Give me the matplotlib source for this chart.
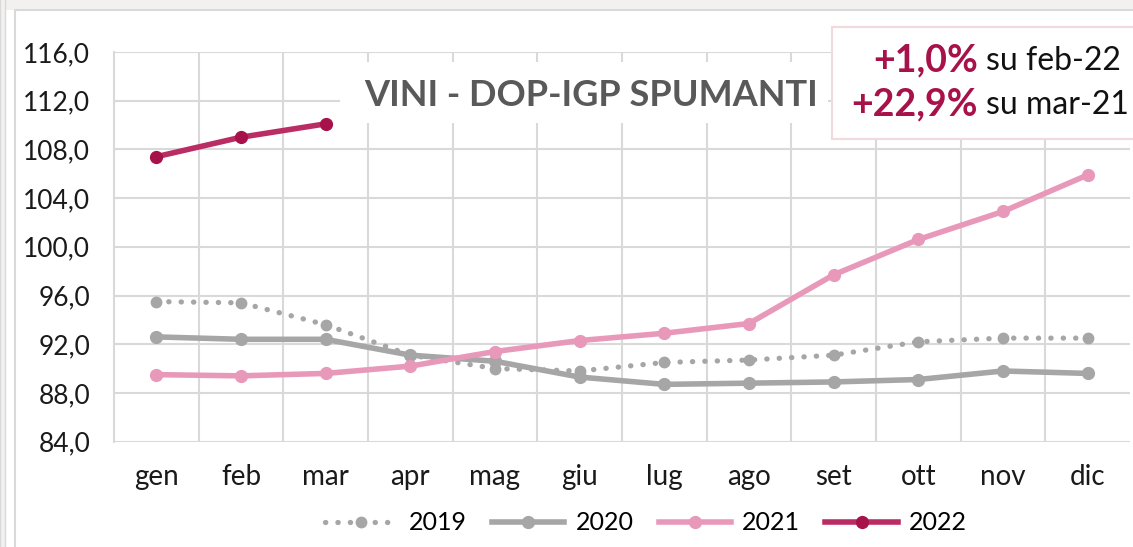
import matplotlib
matplotlib.use("Agg")
import matplotlib.pyplot as plt
from matplotlib.patches import Rectangle
from matplotlib.lines import Line2D

plt.rcParams['font.family'] = ['Lato', 'DejaVu Sans']

months = ["gen", "feb", "mar", "apr", "mag", "giu", "lug", "ago", "set", "ott", "nov", "dic"]
v2019 = [95.5, 95.4, 93.6, 91.1, 90.0, 89.8, 90.5, 90.7, 91.1, 92.2, 92.5, 92.5]
v2020 = [92.6, 92.4, 92.4, 91.1, 90.6, 89.3, 88.7, 88.8, 88.9, 89.1, 89.8, 89.6]
v2021 = [89.5, 89.4, 89.6, 90.2, 91.4, 92.3, 92.9, 93.7, 97.7, 100.6, 102.9, 105.9]
v2022 = [107.4, 109.0, 110.1]
yticks = [84, 88, 92, 96, 100, 104, 108, 112, 116]
title = "VINI - DOP-IGP SPUMANTI"

W, H = 1133, 547
fig = plt.figure(figsize=(W / 100, H / 100), dpi=100)
fig.patch.set_facecolor("white")

# outer frame
fig.patches.append(Rectangle((0, 1 - 10 / H), 1, 10 / H, transform=fig.transFigure,
                             facecolor="#F3F0F0", edgecolor="none", zorder=-3))
fig.patches.append(Rectangle((15 / W, -0.05), 1.2, 1 - 10 / H + 0.05, transform=fig.transFigure,
                             facecolor="white", edgecolor="#D9D9D9", lw=1.5, zorder=-2))
fig.patches.append(Rectangle((0, -0.05), 5 / W, 1.2, transform=fig.transFigure,
                             facecolor="#F3F0F0", edgecolor="#D9D9D9", lw=1, zorder=-2))

ax = fig.add_axes([114 / W, 1 - 441.6 / H, (1130 - 114) / W, (441.6 - 52) / H])
ax.set_facecolor("none")
x = list(range(len(months)))

ax.set_xlim(-0.5, 11.5)
ax.set_ylim(84, 116)
ax.set_yticks(yticks)
ax.set_yticklabels([f"{v:.1f}".replace(".", ",") for v in yticks], fontsize=19, color="#1a1a1a")
ax.set_xticks(x)
ax.set_xticklabels(months, fontsize=20, color="#1a1a1a")
ax.set_xticks([i + 0.5 for i in x[:-1]], minor=True)
ax.tick_params(axis="both", length=0, which="both")
ax.tick_params(axis="y", pad=17)
ax.tick_params(axis="x", pad=16)
ax.grid(True, axis="y", which="major", color="#D9D9D9", lw=1.5)
ax.grid(True, axis="x", which="minor", color="#D9D9D9", lw=1.5)
ax.grid(False, axis="x", which="major")
for s in ["top", "right", "bottom"]:
    ax.spines[s].set_visible(False)
ax.spines["left"].set_color("#D9D9D9")
ax.spines["left"].set_linewidth(1.5)

gray = "#A6A6A6"
pink = "#E899BA"
crim_line = "#BA2D64"
crim_mark = "#A8124A"
lw = 4.0

ax.plot(x, v2019, color=gray, lw=3.8, linestyle=(0, (0.05, 2.3)), dash_capstyle="round",
        marker="o", ms=7.5, zorder=3)
ax.plot(x, v2020, color=gray, lw=lw, marker="o", ms=8.5, zorder=3, solid_capstyle="round")
ax.plot(x, v2021, color=pink, lw=lw, marker="o", ms=8.5, zorder=4, solid_capstyle="round")
ax.plot(x[:len(v2022)], v2022, color=crim_line, lw=lw, marker="o", ms=8.5,
        mfc=crim_mark, mec=crim_mark, zorder=5, solid_capstyle="round")

# title box
fig.patches.append(Rectangle((340 / W, 1 - 123 / H), (828 - 340) / W, (123 - 62) / H,
                             transform=fig.transFigure, facecolor="white", edgecolor="none", zorder=5))
fig.text(591 / W, 1 - 96 / H, title, ha="center", va="center", fontsize=26,
         fontweight="bold", color="#595959", zorder=6)

# annotation box
fig.patches.append(Rectangle((832 / W, 1 - 139 / H), (1140 - 832) / W, (139 - 27) / H,
                             transform=fig.transFigure, facecolor="white", edgecolor="#F2D9DE",
                             lw=1.5, zorder=5))
for yy, bold, reg in [(60, "+1,0%", "su feb-22"), (104, "+22,9%", "su mar-21")]:
    fig.text(978 / W, 1 - yy / H, bold, ha="right", va="center", fontsize=27,
             fontweight="bold", color=crim_mark, zorder=6)
    fig.text(986 / W, 1 - (yy + 1) / H, reg, ha="left", va="center", fontsize=23,
             color="#111111", zorder=6)

handles = [
    Line2D([], [], color=gray, lw=3.8, linestyle=(0, (0.05, 2.3)), dash_capstyle="round",
           marker="o", ms=7.5),
    Line2D([], [], color=gray, lw=lw, marker="o", ms=8.5),
    Line2D([], [], color=pink, lw=lw, marker="o", ms=8.5),
    Line2D([], [], color=crim_line, lw=lw, marker="o", ms=8.5, mfc=crim_mark, mec=crim_mark),
]
fig.legend(handles, ["2019", "2020", "2021", "2022"], loc="center",
           bbox_to_anchor=(646 / W, 1 - 523 / H), ncol=4, frameon=False, fontsize=18,
           handlelength=2.9, columnspacing=1.0, handletextpad=0.45)

fig.savefig("out.png", dpi=100, facecolor="white")
